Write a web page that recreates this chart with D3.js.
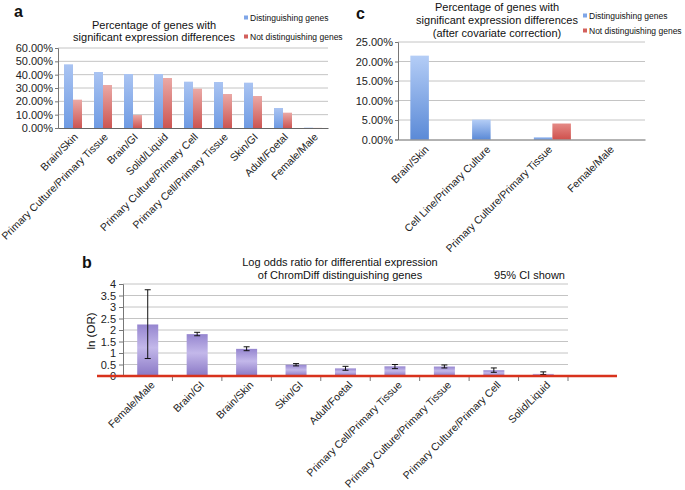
<!DOCTYPE html>
<html>
<head>
<meta charset="utf-8">
<script src="https://cdn.jsdelivr.net/npm/d3@7"></script>
<style>
  body { margin: 0; background: #fff; }
  svg { font-family: "Liberation Sans", Arial, sans-serif; }
  .grid line { stroke: #c4c4c4; stroke-width: 1; }
  .tick text { fill: #222; }
</style>
</head>
<body>
<svg id="main" width="685" height="490"></svg>
<script>
// panel a
const catsA = ['Brain/Skin', 'Primary Culture/Primary Tissue', 'Brain/GI', 'Solid/Liquid',
  'Primary Culture/Primary Cell', 'Primary Cell/Primary Tissue', 'Skin/GI', 'Adult/Foetal', 'Female/Male'];
const distA = [0.4775, 0.42, 0.405, 0.405, 0.3475, 0.345, 0.34, 0.15, 0.003];
const notA = [0.2125, 0.3225, 0.0975, 0.375, 0.295, 0.255, 0.24, 0.115, 0.001];
const ticksA = [0, 0.1, 0.2, 0.3, 0.4, 0.5, 0.6];

// panel c
const catsC = ['Brain/Skin', 'Cell Line/Primary Culture', 'Primary Culture/Primary Tissue', 'Female/Male'];
const distC = [0.215, 0.051, 0.006, 0];
const notC = [0, 0, 0.041, 0];
const ticksC = [0, 0.05, 0.1, 0.15, 0.2, 0.25];

// panel b
const catsB = ['Female/Male', 'Brain/GI', 'Brain/Skin', 'Skin/GI', 'Adult/Foetal',
  'Primary Cell/Primary Tissue', 'Primary Culture/Primary Tissue', 'Primary Culture/Primary Cell', 'Solid/Liquid'];
const orB = [2.24, 1.82, 1.18, 0.49, 0.33, 0.42, 0.41, 0.25, 0.09];
const loB = [0.76, 1.75, 1.1, 0.44, 0.25, 0.32, 0.35, 0.16, 0.06];
const hiB = [3.75, 1.9, 1.27, 0.54, 0.42, 0.5, 0.48, 0.35, 0.18];
const ticksB = [0, 0.5, 1, 1.5, 2, 2.5, 3, 3.5, 4];

const series = ['Distinguishing genes', 'Not distinguishing genes'];

const svg = d3.select('#main');
const defs = svg.append('defs');

function gradient(id, stops) {
  const g = defs.append('linearGradient').attr('id', id)
    .attr('x1', 0).attr('y1', 0).attr('x2', 0).attr('y2', 1);
  stops.forEach(([o, c]) => g.append('stop').attr('offset', o).attr('stop-color', c));
}
gradient('blueA', [[0, '#aac4f2'], [1, '#6f9be3']]);
gradient('redA', [[0, '#eaa9a6'], [1, '#cc5552']]);
gradient('blueC', [[0, '#b4cdf6'], [1, '#5b8ad7']]);
gradient('redC', [[0, '#e58a86'], [1, '#cf514d']]);
gradient('purple', [[0, '#9585cf'], [0.45, '#c3b8ea'], [1, '#8a78c5']]);

function label(x, y, t, size, weight, anchor) {
  svg.append('text').attr('x', x).attr('y', y)
    .attr('font-size', size).attr('font-weight', weight || 'normal')
    .attr('text-anchor', anchor || 'start').attr('fill', '#111').text(t);
}

function grouped(cfg) {
  const g = svg.append('g');
  const x = d3.scaleBand().domain(cfg.cats).range(cfg.xr).paddingInner(0.4).paddingOuter(0.2);
  const xs = d3.scaleBand().domain(series).range([0, x.bandwidth()]);
  const y = d3.scaleLinear().domain([0, d3.max(cfg.ticks)]).range(cfg.yr);

  g.append('g').attr('class', 'grid')
    .selectAll('line').data(cfg.ticks.slice(1)).join('line')
    .attr('x1', cfg.xr[0]).attr('x2', cfg.xr[1])
    .attr('y1', d => y(d)).attr('y2', d => y(d));

  const yAxis = g.append('g').attr('transform', `translate(${cfg.xr[0]},0)`)
    .call(d3.axisLeft(y).tickValues(cfg.ticks).tickFormat(d3.format('.2%')).tickSize(3).tickPadding(2));
  yAxis.selectAll('text').attr('font-size', 11).attr('font-family', null);
  yAxis.selectAll('line, path').attr('stroke', '#777');

  const rows = cfg.cats.map((c, i) => ({cat: c, vals: [cfg.dist[i], cfg.not[i]]}));
  g.selectAll('g.grp').data(rows).join('g').attr('class', 'grp')
    .attr('transform', d => `translate(${x(d.cat)},0)`)
    .selectAll('rect').data(d => d.vals.map((v, j) => ({s: series[j], v})))
    .join('rect')
    .attr('x', d => xs(d.s)).attr('width', xs.bandwidth())
    .attr('y', d => y(d.v)).attr('height', d => y(0) - y(d.v))
    .attr('fill', (d, j) => j === 0 ? `url(#${cfg.fills[0]})` : `url(#${cfg.fills[1]})`);

  const xAxis = g.append('g').attr('transform', `translate(0,${cfg.yr[0]})`)
    .call(d3.axisBottom(x).tickSize(0).tickPadding(0));
  xAxis.select('path').attr('stroke', '#666');
  xAxis.selectAll('text').attr('font-size', 10.5).attr('font-family', null)
    .attr('text-anchor', 'end').attr('y', 0).attr('dy', '0.35em')
    .attr('transform', `translate(${cfg.lab[0]},${cfg.lab[1]}) rotate(-45)`);

  cfg.legend.forEach(([lx, ly], j) => {
    g.append('rect').attr('x', lx).attr('y', ly - 2.5).attr('width', 4).attr('height', 4)
      .attr('fill', j === 0 ? '#7fa6e8' : '#d3605d');
    label(lx + 6, ly + 3, series[j], 8.5);
  });
}

// a
label(14, 17, 'a', 16, 'bold');
label(154, 29, 'Percentage of genes with', 11, null, 'middle');
label(154, 41, 'significant expression differences', 11, null, 'middle');
grouped({cats: catsA, dist: distA, not: notA, ticks: ticksA, xr: [58, 328], yr: [128, 48],
  fills: ['blueA', 'redA'], lab: [3, 7], legend: [[244, 18], [244, 37]]});

// c
label(356, 19, 'c', 16, 'bold');
label(497, 11, 'Percentage of genes with', 11, null, 'middle');
label(497, 24, 'significant expression differences', 11, null, 'middle');
label(497, 37, '(after covariate correction)', 11, null, 'middle');
grouped({cats: catsC, dist: distC, not: notC, ticks: ticksC, xr: [398, 645], yr: [139.5, 42],
  fills: ['blueC', 'redC'], lab: [-2, 8], legend: [[583, 16], [583, 31]]});

// b
label(82, 268, 'b', 16, 'bold');
label(340, 266, 'Log odds ratio for differential expression', 11, null, 'middle');
label(340, 279, 'of ChromDiff distinguishing genes', 11, null, 'middle');
label(565, 279, '95% CI shown', 11, null, 'end');

const gb = svg.append('g');
const xb = d3.scaleBand().domain(catsB).range([123, 568]).paddingInner(0.575).paddingOuter(0.2875);
const xbTicks = d3.scaleBand().domain(catsB).range([123, 568]);
const yb = d3.scaleLinear().domain([0, 4]).range([376, 284]);

gb.append('g').attr('class', 'grid')
  .selectAll('line').data(ticksB.slice(1)).join('line')
  .attr('x1', 123).attr('x2', 568)
  .attr('y1', d => yb(d)).attr('y2', d => yb(d));

const ybAxis = gb.append('g').attr('transform', 'translate(123,0)')
  .call(d3.axisLeft(yb).tickValues(ticksB).tickFormat(d3.format('')).tickSize(4).tickPadding(3));
ybAxis.selectAll('text').attr('font-size', 11).attr('font-family', null);
ybAxis.selectAll('line, path').attr('stroke', '#777');

svg.append('text').attr('transform', 'translate(95,331) rotate(-90)')
  .attr('text-anchor', 'middle').attr('font-size', 11.5).attr('fill', '#111').text('ln (OR)');

gb.selectAll('rect.bar').data(catsB).join('rect').attr('class', 'bar')
  .attr('x', d => xb(d)).attr('width', xb.bandwidth())
  .attr('y', (d, i) => yb(orB[i])).attr('height', (d, i) => yb(0) - yb(orB[i]))
  .attr('fill', 'url(#purple)');

const err = gb.selectAll('g.err').data(catsB).join('g').attr('class', 'err')
  .attr('transform', d => `translate(${xb(d) + xb.bandwidth() / 2},0)`)
  .attr('stroke', '#111').attr('stroke-width', 1);
err.append('line').attr('y1', (d, i) => yb(loB[i])).attr('y2', (d, i) => yb(hiB[i]));
err.append('line').attr('x1', -3).attr('x2', 3).attr('y1', (d, i) => yb(loB[i])).attr('y2', (d, i) => yb(loB[i]));
err.append('line').attr('x1', -3).attr('x2', 3).attr('y1', (d, i) => yb(hiB[i])).attr('y2', (d, i) => yb(hiB[i]));

// category boundary ticks under the baseline
gb.selectAll('line.ctick').data(catsB).join('line').attr('class', 'ctick')
  .attr('x1', d => xbTicks(d) + xbTicks.step()).attr('x2', d => xbTicks(d) + xbTicks.step())
  .attr('y1', 376).attr('y2', 381).attr('stroke', '#777');

const xbAxis = gb.append('g').attr('transform', 'translate(0,376)')
  .call(d3.axisBottom(xb).tickSize(0).tickPadding(0));
xbAxis.select('path').remove();
xbAxis.selectAll('text').attr('font-size', 10.5).attr('font-family', null)
  .attr('text-anchor', 'end').attr('y', 0).attr('dy', '0.35em')
  .attr('transform', 'translate(5,7) rotate(-45)');

// red baseline
gb.append('line').attr('x1', 97).attr('x2', 617).attr('y1', yb(0)).attr('y2', yb(0))
  .attr('stroke', '#d8321c').attr('stroke-width', 2.5);
</script>
</body>
</html>
